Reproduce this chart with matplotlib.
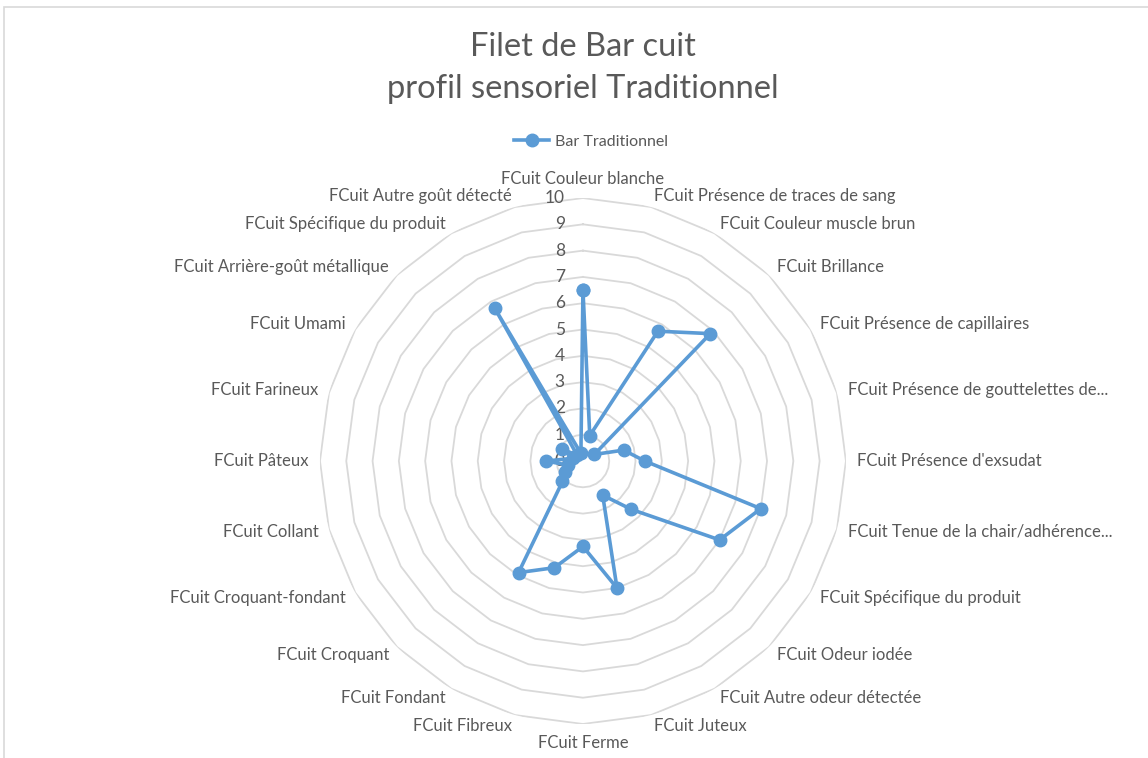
import numpy as np
import matplotlib.pyplot as plt
from matplotlib.patches import Rectangle

# Sensory attributes, clockwise from the top
attributes = [
    "FCuit Couleur blanche",
    "FCuit Présence de traces de sang",
    "FCuit Couleur muscle brun",
    "FCuit Brillance",
    "FCuit Présence de capillaires",
    "FCuit Présence de gouttelettes de...",
    "FCuit Présence d'exsudat",
    "FCuit Tenue de la chair/adhérence...",
    "FCuit Spécifique du produit",
    "FCuit Odeur iodée",
    "FCuit Autre odeur détectée",
    "FCuit Juteux",
    "FCuit Ferme",
    "FCuit Fibreux",
    "FCuit Fondant",
    "FCuit Croquant",
    "FCuit Croquant-fondant",
    "FCuit Collant",
    "FCuit Pâteux",
    "FCuit Farineux",
    "FCuit Umami",
    "FCuit Arrière-goût métallique",
    "FCuit Spécifique du produit",
    "FCuit Autre goût détecté",
]

# Mean panel scores (0-10)
bar_traditionnel = [6.5, 1.0, 5.7, 6.85, 0.5, 1.6, 2.35, 7.0, 6.0, 2.6, 1.5, 5.0,
                    3.25, 4.2, 4.9, 1.1, 0.8, 0.6, 1.4, 0.4, 0.9, 0.3, 6.7, 0.3]

ring_levels = list(range(0, 11))

LINE_COLOR = "#5b9bd5"
GRID_COLOR = "#d9d9d9"
TEXT_COLOR = "#595959"

n = len(attributes)
theta = np.linspace(0, 2 * np.pi, n, endpoint=False)
theta_closed = np.append(theta, theta[0])

fig = plt.figure(figsize=(11.48, 7.58), dpi=100)
fig.patches.append(Rectangle((4 / 1148, -0.01), 1.0, 1 - 7 / 758 + 0.01,
                             transform=fig.transFigure, fill=False,
                             edgecolor=GRID_COLOR, linewidth=1.2))

ax = fig.add_axes([0.2787, 0.04485, 0.4582, 0.6939], projection="polar")
ax.set_theta_zero_location("N")
ax.set_theta_direction(-1)
ax.set_ylim(0, 10)
ax.grid(False)
ax.spines["polar"].set_visible(False)
ax.set_xticks([])
ax.set_yticks([])
ax.patch.set_alpha(0)

# polygon rings instead of circular grid
for lvl in ring_levels[1:]:
    ax.plot(theta_closed, [lvl] * (n + 1), color=GRID_COLOR, lw=1.3, zorder=1)

for lvl in ring_levels:
    ax.annotate(str(lvl), xy=(0, lvl), xytext=(-13, 0), textcoords="offset points",
                ha="right", va="center", fontsize=12.5, color=TEXT_COLOR,
                family="Lato", annotation_clip=False)

vals = np.append(bar_traditionnel, bar_traditionnel[0])
ax.plot(theta_closed, vals, color=LINE_COLOR, lw=2.6, marker="o", markersize=9,
        zorder=3, label="Bar Traditionnel", clip_on=False)

# category labels around the outer ring
for ang, name in zip(theta, attributes):
    deg = np.degrees(ang)
    if np.isclose(deg, 0):
        ha, va = "center", "bottom"
    elif np.isclose(deg, 180):
        ha, va = "center", "top"
    elif deg < 180:
        ha, va = "left", "center"
    else:
        ha, va = "right", "center"
    ax.text(ang, 10.42, name, ha=ha, va=va, fontsize=12, color=TEXT_COLOR,
            family="Lato", clip_on=False)

fig.text(0.508, 1 - 47 / 758, "Filet de Bar cuit", ha="center", va="center",
         fontsize=23.5, color=TEXT_COLOR, family="Lato")
fig.text(0.508, 1 - 89 / 758, "profil sensoriel Traditionnel", ha="center", va="center",
         fontsize=23.5, color=TEXT_COLOR, family="Lato")

fig.legend(loc="center", bbox_to_anchor=(0.515, 1 - 142 / 758), frameon=False,
           prop={"family": "Lato", "size": 11.5}, labelcolor=TEXT_COLOR,
           handlelength=2.2, handletextpad=0.4)

fig.savefig("out.png", dpi=100, facecolor="white")
